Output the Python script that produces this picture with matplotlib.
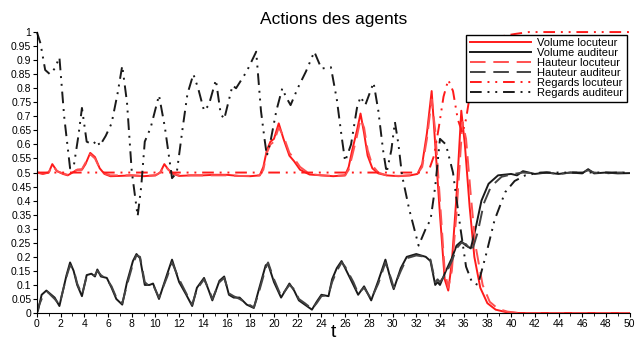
import numpy as np
import matplotlib
matplotlib.use('Agg')
import matplotlib.pyplot as plt

plt.rcParams['font.family'] = ['Liberation Sans', 'DejaVu Sans']

# Volume locuteur (rouge, trait plein)
t_vol_loc = [0, 0.5, 1.0, 1.3, 1.7, 2.2, 2.6, 3.0, 3.4, 3.8, 4.1, 4.5, 4.9, 5.3, 5.7, 6.2, 7, 8, 9, 10,
             10.4, 10.75, 11.1, 11.5, 12, 13, 14, 15, 16, 17, 18, 18.8, 19.1, 19.4, 19.7, 20.0, 20.4, 20.8,
             21.3, 21.7, 22.2, 23, 24, 25, 26, 26.3, 26.6, 27.0, 27.3, 27.6, 27.9, 28.3, 28.8, 29.5, 30.5,
             31.5, 32.1, 32.5, 32.9, 33.3, 33.6, 34.0, 34.4, 34.7, 35.0, 35.4, 35.8, 36.1, 36.5, 36.9, 37.4,
             38.0, 38.7, 39.5, 40.5, 50]
v_vol_loc = [0.5, 0.495, 0.5, 0.53, 0.505, 0.495, 0.49, 0.5, 0.51, 0.51, 0.53, 0.57, 0.555, 0.515, 0.495,
             0.487, 0.488, 0.49, 0.487, 0.49, 0.5, 0.53, 0.51, 0.495, 0.488, 0.49, 0.49, 0.492, 0.492, 0.488,
             0.487, 0.49, 0.52, 0.58, 0.61, 0.62, 0.675, 0.62, 0.56, 0.54, 0.51, 0.493, 0.49, 0.487, 0.49,
             0.52, 0.58, 0.65, 0.71, 0.64, 0.56, 0.515, 0.497, 0.49, 0.487, 0.49, 0.495, 0.53, 0.64, 0.79,
             0.6, 0.35, 0.12, 0.08, 0.18, 0.42, 0.72, 0.6, 0.38, 0.2, 0.09, 0.035, 0.012, 0.004, 0, 0]

# Hauteur locuteur (rouge, tirets)
t_haut_loc = [0, 0.5, 1.0, 1.3, 1.7, 2.2, 2.6, 3.0, 3.4, 3.8, 4.1, 4.5, 4.9, 5.3, 5.7, 6.2, 7, 8, 9, 10,
              10.4, 10.75, 11.1, 11.5, 12, 13, 14, 15, 16, 17, 18, 18.8, 19.1, 19.4, 19.7, 20.0, 20.4, 20.8,
              21.3, 21.7, 22.2, 23, 24, 25, 26, 26.3, 26.6, 27.0, 27.3, 27.6, 27.9, 28.3, 28.8, 29.5, 30.5,
              31.5, 32.1, 32.5, 32.9, 33.3, 33.6, 34.0, 34.4, 34.7, 35.0, 35.4, 35.9, 36.2, 36.6, 37.0, 37.6,
              38.2, 38.9, 39.7, 40.7, 50]
v_haut_loc = [0.5, 0.497, 0.5, 0.525, 0.505, 0.497, 0.492, 0.5, 0.51, 0.512, 0.535, 0.565, 0.55, 0.515,
              0.497, 0.49, 0.49, 0.49, 0.488, 0.49, 0.5, 0.525, 0.51, 0.497, 0.49, 0.49, 0.49, 0.49, 0.49,
              0.488, 0.488, 0.49, 0.51, 0.57, 0.6, 0.61, 0.66, 0.63, 0.57, 0.55, 0.52, 0.495, 0.49, 0.488,
              0.49, 0.51, 0.56, 0.63, 0.69, 0.66, 0.58, 0.525, 0.5, 0.49, 0.488, 0.49, 0.495, 0.52, 0.62,
              0.76, 0.65, 0.4, 0.15, 0.09, 0.15, 0.36, 0.68, 0.62, 0.42, 0.24, 0.1, 0.04, 0.015, 0.005, 0, 0]

# Regards locuteur (rouge, tiret-point-point)
t_reg_loc = [0, 33.0, 33.5, 33.9, 34.3, 34.7, 35.1, 35.5, 35.9, 36.2, 36.5, 37.0, 37.6, 38.3, 39.2, 40.3,
             41.5, 50]
v_reg_loc = [0.5, 0.5, 0.56, 0.66, 0.77, 0.83, 0.79, 0.69, 0.64, 0.69, 0.77, 0.87, 0.94, 0.97, 0.985, 0.993,
             1.0, 1.0]

# Volume auditeur (noir, trait plein)
t_vol_aud = [0, 0.1, 0.4, 0.8, 1.5, 1.9, 2.5, 2.8, 3.1, 3.4, 3.8, 4.2, 4.6, 4.9, 5.1, 5.4, 5.9, 6.3, 6.7,
             7.2, 7.6, 8.1, 8.4, 8.7, 9.1, 9.5, 9.8, 10.3, 11.0, 11.4, 12.0, 12.6, 13.1, 13.5, 14.1, 14.5,
             14.8, 15.4, 15.8, 16.2, 16.6, 17.1, 17.7, 18.3, 18.7, 19.3, 19.5, 20.0, 20.6, 21.3, 21.7, 22.1,
             22.6, 23.2, 23.6, 24.0, 24.6, 24.9, 25.3, 25.7, 26.0, 26.7, 27.1, 27.6, 28.2, 28.8, 29.4, 29.9,
             30.1, 30.7, 31.2, 32.0, 32.8, 33.2, 33.6, 33.8, 34.0, 34.5, 35.0, 35.4, 35.8, 36.2, 36.6, 37.0,
             37.5, 38.1, 38.9, 40.0, 40.5, 41.0, 42, 43, 44, 45, 46.0, 46.5, 47.0, 48, 49, 50]
v_vol_aud = [0, 0.01, 0.065, 0.08, 0.055, 0.025, 0.135, 0.18, 0.15, 0.10, 0.06, 0.135, 0.14, 0.13, 0.155,
             0.13, 0.125, 0.09, 0.05, 0.03, 0.11, 0.185, 0.21, 0.195, 0.10, 0.10, 0.105, 0.05, 0.14, 0.19,
             0.11, 0.065, 0.025, 0.09, 0.125, 0.08, 0.045, 0.115, 0.13, 0.065, 0.055, 0.055, 0.03, 0.018,
             0.08, 0.17, 0.175, 0.11, 0.055, 0.105, 0.08, 0.045, 0.03, 0.012, 0.04, 0.065, 0.06, 0.12, 0.16,
             0.185, 0.16, 0.10, 0.065, 0.095, 0.045, 0.115, 0.19, 0.11, 0.085, 0.16, 0.20, 0.21, 0.20, 0.185,
             0.10, 0.11, 0.10, 0.15, 0.195, 0.24, 0.255, 0.24, 0.23, 0.30, 0.40, 0.46, 0.49, 0.495, 0.49,
             0.505, 0.495, 0.5, 0.495, 0.5, 0.497, 0.512, 0.497, 0.5, 0.497, 0.498]

# Hauteur auditeur (noir, tirets)
t_haut_aud = [0, 0.2, 0.5, 0.9, 1.5, 1.9, 2.5, 2.8, 3.1, 3.4, 3.8, 4.2, 4.6, 4.9, 5.1, 5.4, 5.9, 6.3, 6.7,
              7.2, 7.6, 8.1, 8.4, 8.7, 9.1, 9.5, 9.8, 10.3, 11.0, 11.4, 12.0, 12.6, 13.1, 13.5, 14.1, 14.5,
              14.8, 15.4, 15.8, 16.2, 16.6, 17.1, 17.7, 18.3, 18.7, 19.3, 19.5, 20.0, 20.6, 21.3, 21.7, 22.1,
              22.6, 23.2, 23.6, 24.0, 24.6, 24.9, 25.3, 25.7, 26.0, 26.7, 27.1, 27.6, 28.2, 28.8, 29.4, 29.9,
              30.1, 30.7, 31.2, 32.0, 32.8, 33.2, 33.6, 33.8, 34.0, 34.5, 35.0, 35.4, 35.8, 36.2, 36.7, 37.2,
              37.7, 38.3, 39.2, 40.2, 41.0, 42, 43, 44, 45, 46.0, 46.5, 47.0, 48, 49, 50]
v_haut_aud = [0, 0.03, 0.06, 0.075, 0.05, 0.03, 0.13, 0.17, 0.155, 0.105, 0.065, 0.13, 0.135, 0.135, 0.15,
              0.135, 0.12, 0.095, 0.055, 0.035, 0.10, 0.175, 0.205, 0.2, 0.11, 0.095, 0.1, 0.055, 0.13, 0.18,
              0.12, 0.07, 0.03, 0.085, 0.12, 0.085, 0.05, 0.11, 0.125, 0.07, 0.06, 0.05, 0.035, 0.02, 0.07,
              0.16, 0.18, 0.12, 0.06, 0.1, 0.085, 0.05, 0.035, 0.015, 0.035, 0.06, 0.065, 0.11, 0.15, 0.18,
              0.165, 0.11, 0.07, 0.09, 0.05, 0.105, 0.18, 0.12, 0.09, 0.15, 0.195, 0.205, 0.2, 0.19, 0.11,
              0.12, 0.11, 0.14, 0.185, 0.23, 0.25, 0.245, 0.22, 0.29, 0.39, 0.45, 0.485, 0.495, 0.5, 0.497,
              0.5, 0.495, 0.5, 0.5, 0.508, 0.5, 0.497, 0.5, 0.5]

# Regards auditeur (noir, tiret-point-point)
t_reg_aud = [0, 0.3, 0.7, 1.1, 1.5, 1.9, 2.3, 2.8, 3.1, 3.5, 3.8, 4.2, 4.7, 5.1, 5.3, 5.8, 6.3, 6.8, 7.2,
             7.6, 8.0, 8.5, 8.8, 9.1, 9.6, 10.3, 10.8, 11.4, 11.8, 12.3, 12.7, 13.2, 13.6, 14.1, 14.5, 15.1,
             15.5, 15.8, 16.5, 16.8, 17.7, 18.5, 18.9, 19.2, 19.4, 19.7, 20.2, 20.7, 21.0, 21.4, 22.0, 22.7,
             23.4, 24.0, 24.8, 25.3, 25.7, 26.0, 26.5, 27.0, 27.3, 27.7, 28.4, 28.8, 29.2, 29.5, 29.9, 30.2,
             30.5, 30.8, 31.4, 32.2, 32.9, 33.2, 33.6, 34.0, 34.5, 35.1, 35.7, 36.2, 36.7, 37.2, 37.9, 38.6,
             39.5, 40.3, 41.2, 42.5, 50]
v_reg_aud = [1.0, 0.96, 0.865, 0.85, 0.87, 0.91, 0.7, 0.515, 0.52, 0.63, 0.73, 0.61, 0.60, 0.615, 0.595,
             0.63, 0.675, 0.78, 0.88, 0.75, 0.505, 0.345, 0.45, 0.61, 0.66, 0.775, 0.66, 0.48, 0.50, 0.66,
             0.78, 0.85, 0.80, 0.72, 0.74, 0.83, 0.71, 0.69, 0.81, 0.80, 0.86, 0.93, 0.72, 0.62, 0.56, 0.61,
             0.72, 0.80, 0.77, 0.74, 0.80, 0.86, 0.93, 0.87, 0.875, 0.76, 0.63, 0.54, 0.6, 0.73, 0.77, 0.74,
             0.82, 0.72, 0.58, 0.50, 0.58, 0.68, 0.6, 0.49, 0.37, 0.24, 0.31, 0.33, 0.45, 0.62, 0.60, 0.50,
             0.31, 0.165, 0.11, 0.10, 0.21, 0.33, 0.43, 0.47, 0.49, 0.5, 0.5]

LW = 1.4
DASHED = (0, (8, 4))
DASH_DOT_DOT = (0, (6, 3, 1, 3, 1, 3))

fig = plt.figure(figsize=(6.36, 3.41), dpi=100)
ax = fig.add_axes([0.058, 0.082, 0.932, 0.824])

ax.plot(t_vol_loc, v_vol_loc, color='#ff1a1a', lw=LW, label='Volume locuteur', solid_joinstyle='round')
ax.plot(t_vol_aud, v_vol_aud, color='#1a1a1a', lw=LW, label='Volume auditeur', solid_joinstyle='round')
ax.plot(t_haut_loc, v_haut_loc, color='#ff5050', lw=LW, ls=DASHED, label='Hauteur locuteur')
ax.plot(t_haut_aud, v_haut_aud, color='#444444', lw=LW, ls=DASHED, label='Hauteur auditeur')
ax.plot(t_reg_loc, v_reg_loc, color='#ff1a1a', lw=LW, ls=DASH_DOT_DOT, label='Regards locuteur', clip_on=False)
ax.plot(t_reg_aud, v_reg_aud, color='#1a1a1a', lw=LW, ls=DASH_DOT_DOT, label='Regards auditeur', clip_on=False)

ax.set_xlim(0, 50)
ax.set_ylim(0, 1)
ax.set_xticks(np.arange(0, 51, 2))
ax.set_xticks(np.arange(1, 50, 2), minor=True)
ax.set_yticks(np.round(np.arange(0, 1.001, 0.05), 2))
ax.set_yticklabels(['0'] + ['%g' % v for v in np.round(np.arange(0.05, 1.001, 0.05), 2)])
ax.tick_params(axis='both', labelsize=7.5, length=3, width=0.8, pad=1)
ax.tick_params(axis='x', which='minor', length=2)
for s in ['top', 'right']:
    ax.spines[s].set_visible(False)

ax.set_title('Actions des agents', fontsize=12.5, pad=6)
ax.set_xlabel('t', fontsize=14, labelpad=-3)

leg = ax.legend(loc='upper right', bbox_to_anchor=(0.995, 0.99), borderaxespad=0, fontsize=8,
                handlelength=5.5, handletextpad=0.6, labelspacing=0.0, borderpad=0.3,
                fancybox=False, framealpha=1, edgecolor='black')
leg.get_frame().set_linewidth(1.0)

fig.savefig('out.png', dpi=100)
